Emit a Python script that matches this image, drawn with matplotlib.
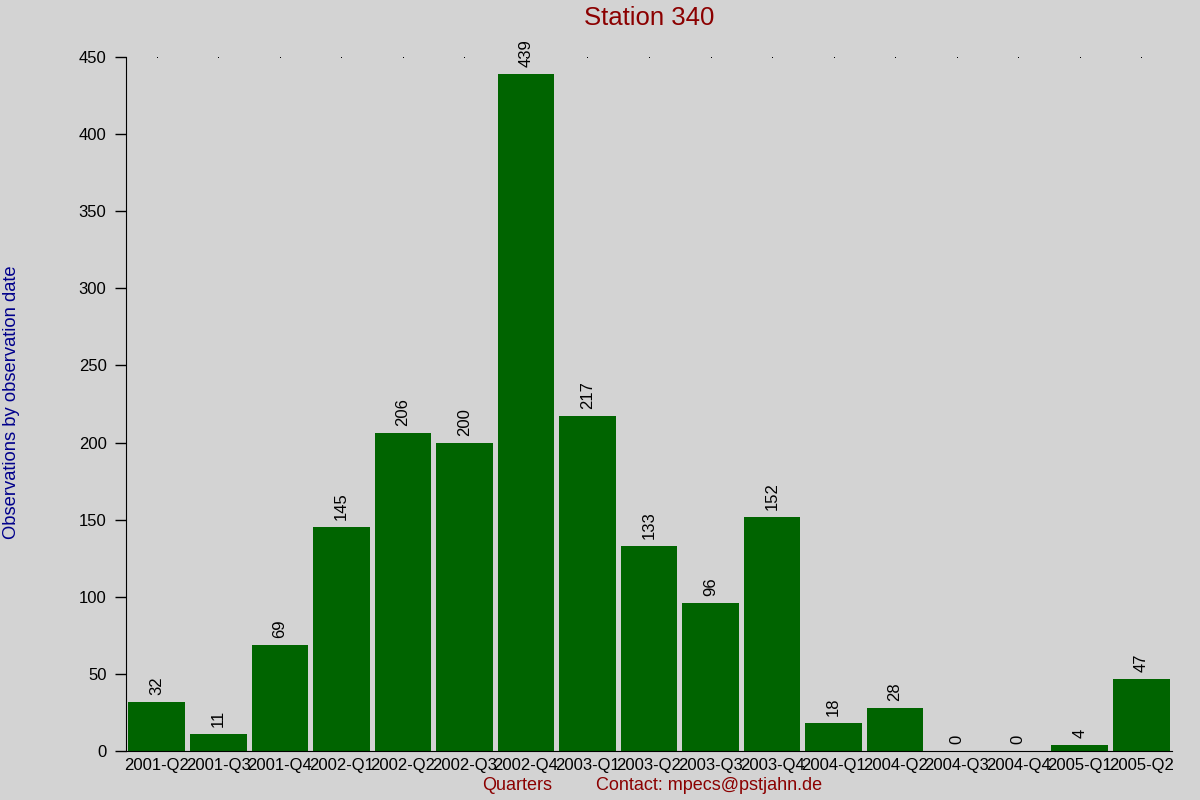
import matplotlib.pyplot as plt
import numpy as np

plt.rcParams['font.family'] = ['Liberation Sans', 'DejaVu Sans']

quarters = ['2001-Q2', '2001-Q3', '2001-Q4', '2002-Q1', '2002-Q2', '2002-Q3',
            '2002-Q4', '2003-Q1', '2003-Q2', '2003-Q3', '2003-Q4', '2004-Q1',
            '2004-Q2', '2004-Q3', '2004-Q4', '2005-Q1', '2005-Q2']
counts = [32, 11, 69, 145, 206, 200, 439, 217, 133, 96, 152, 18, 28, 0, 0, 4, 47]
yticks = [0, 50, 100, 150, 200, 250, 300, 350, 400, 450]

bg = '#d3d3d3'
fig = plt.figure(figsize=(12, 8), dpi=100, facecolor=bg)
ax = fig.add_axes([126 / 1200, 1 - 751 / 800, 1046 / 1200, 694 / 800])
ax.set_facecolor(bg)

x = np.arange(len(quarters))
ax.bar(x, counts, width=0.92, color='#006400')

for xi, v in zip(x, counts):
    ax.annotate(str(v), (xi, v), xytext=(0, 5), textcoords='offset points',
                rotation=90, ha='center', va='bottom', fontsize=12)

# little dots along the top
ax.plot(x, [450] * len(x), ls='none', marker='s', ms=0.7, mew=0,
        color='black', clip_on=False, zorder=0)

ax.set_xlim(-0.5, len(quarters) - 0.5)
ax.set_ylim(0, 450)
ax.set_yticks(yticks)
ax.set_xticks(x)
ax.set_xticklabels(quarters, fontsize=12)
ax.tick_params(axis='y', labelsize=12, length=8, width=1, pad=6)
ax.tick_params(axis='x', length=0, pad=5)
for s in ['top', 'right']:
    ax.spines[s].set_visible(False)

fig.text(649 / 1200, 1 - 18 / 800, 'Station 340', color='#8b0000', fontsize=18.5,
         ha='center', va='center')
fig.text(12 / 1200, 1 - 402 / 800, 'Observations by observation date', color='#00008b',
         fontsize=13.2, rotation=90, ha='center', va='center')
fig.text(517 / 1200, 1 - 786 / 800, 'Quarters', color='#8b0000', fontsize=13,
         ha='center', va='center')
fig.text(709 / 1200, 1 - 786 / 800, 'Contact: mpecs@pstjahn.de', color='#8b0000',
         fontsize=13, ha='center', va='center')

fig.savefig('out.png', dpi=100, facecolor=bg)
